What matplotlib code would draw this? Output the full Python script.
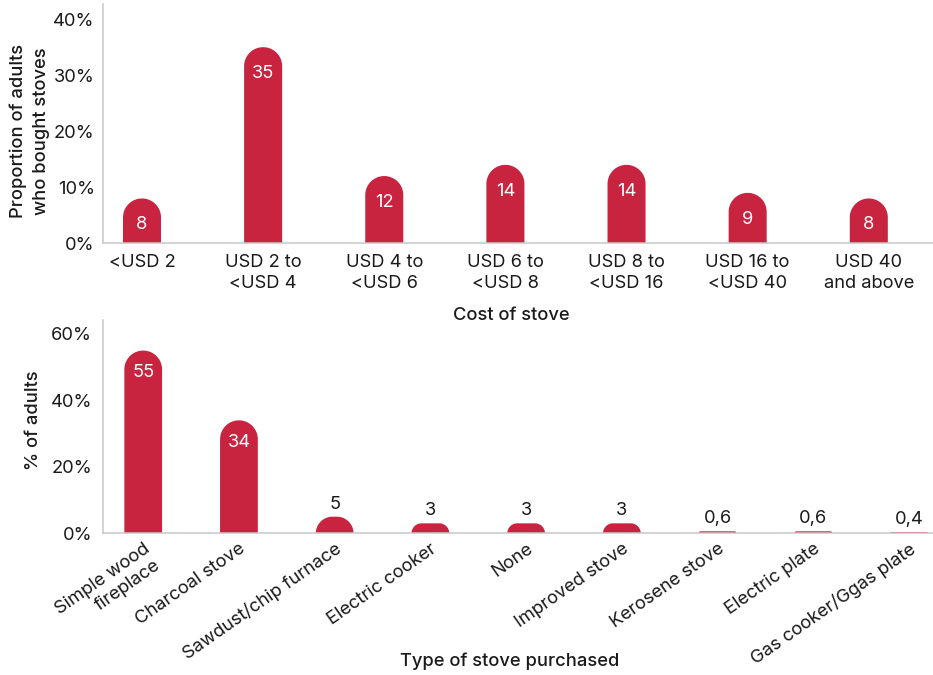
import numpy as np
import matplotlib
matplotlib.use("Agg")
import matplotlib.pyplot as plt
from matplotlib.patches import Polygon

plt.rcParams['font.family'] = ['Inter', 'DejaVu Sans']

# data
cost_cats = ['<USD 2', 'USD 2 to\n<USD 4', 'USD 4 to\n<USD 6', 'USD 6 to\n<USD 8',
             'USD 8 to\n<USD 16', 'USD 16 to\n<USD 40', 'USD 40\nand above']
cost_vals = [8, 35, 12, 14, 14, 9, 8]

stove_cats = ['Simple wood\nfireplace', 'Charcoal stove', 'Sawdust/chip furnace',
              'Electric cooker', 'None', 'Improved stove', 'Kerosene stove',
              'Electric plate', 'Gas cooker/Ggas plate']
stove_vals = [55, 34, 5, 3, 3, 3, 0.6, 0.6, 0.4]

RED = '#C8233F'
GREY = '#c8c8c8'
TXT = '#1a1a1a'
FS = 13.2

W, H = 933, 675
fig = plt.figure(figsize=(W / 100, H / 100), dpi=100)


def px_axes(x0, y_top, x1, y_bot):
    return fig.add_axes([x0 / W, 1 - y_bot / H, (x1 - x0) / W, (y_bot - y_top) / H])


def rounded_bars(ax, bars):
    # swap the plain rectangles for bars with rounded tops (radius in pixels)
    pos = ax.get_position()
    xl, yl = ax.get_xlim(), ax.get_ylim()
    sx = pos.width * W / (xl[1] - xl[0])
    sy = pos.height * H / (yl[1] - yl[0])
    t = np.linspace(0, np.pi / 2, 20)
    for b in bars:
        x0, w, h = b.get_x(), b.get_width(), b.get_height()
        b.set_visible(False)
        r = min(w * sx / 2, h * sy)
        rx, ry = r / sx, r / sy
        left = np.column_stack([x0 + rx - rx * np.cos(t), h - ry + ry * np.sin(t)])
        right = np.column_stack([x0 + w - rx + rx * np.sin(t), h - ry + ry * np.cos(t)])
        pts = np.vstack([[x0, 0], left, right, [x0 + w, 0]])
        ax.add_patch(Polygon(pts, closed=True, facecolor=RED, edgecolor='none'))
    return sy


def style(ax):
    ax.patch.set_visible(False)
    for s in ['top', 'right']:
        ax.spines[s].set_visible(False)
    for s in ['left', 'bottom']:
        ax.spines[s].set_color(GREY)
        ax.spines[s].set_linewidth(1.1)
    ax.tick_params(length=0, labelsize=FS, colors=TXT)


# top chart
ax1 = px_axes(103, 4, 933, 243.3)
x1 = np.arange(len(cost_cats))
bars1 = ax1.bar(x1, cost_vals, width=0.314, color=RED)
ax1.set_xlim(-0.322, 6.53)
ax1.set_ylim(0, 42.7)
ax1.set_yticks([0, 10, 20, 30, 40])
ax1.set_yticklabels(['0%', '10%', '20%', '30%', '40%'])
ax1.set_xticks(x1)
ax1.set_xticklabels(cost_cats, linespacing=1.3)
style(ax1)
ax1.tick_params(axis='x', pad=8)
ax1.tick_params(axis='y', pad=6)
rounded_bars(ax1, bars1)
for xi, v in zip(x1, cost_vals):
    ax1.annotate(str(v), (xi, v), xytext=(0, -19), textcoords='offset points',
                 ha='center', va='center', color='white', fontsize=FS)
ax1.set_ylabel('Proportion of adults\nwho bought stoves', fontsize=FS,
               fontweight='medium', color=TXT, linespacing=1.45)
ax1.yaxis.set_label_coords(-0.064, 0.47)
ax1.set_xlabel('Cost of stove', fontsize=FS, fontweight='medium', color=TXT)
ax1.xaxis.set_label_coords(0.492, -0.265)

# bottom chart
ax2 = px_axes(103, 320, 933, 533.3)
x2 = np.arange(len(stove_cats))
bars2 = ax2.bar(x2, stove_vals, width=0.394, color=RED)
ax2.set_xlim(-0.42, 8.25)
ax2.set_ylim(0, 64.2)
ax2.set_yticks([0, 20, 40, 60])
ax2.set_yticklabels(['0%', '20%', '40%', '60%'])
ax2.set_xticks(x2)
ax2.set_xticklabels(stove_cats, rotation=35, ha='right', rotation_mode='anchor',
                    linespacing=1.2)
style(ax2)
ax2.tick_params(axis='x', pad=5)
ax2.tick_params(axis='y', pad=8)
sy2 = rounded_bars(ax2, bars2)
for xi, v in zip(x2, stove_vals):
    lab = ('%g' % v).replace('.', ',')
    if v * sy2 > 30:
        ax2.annotate(lab, (xi, v), xytext=(0, -16), textcoords='offset points',
                     ha='center', va='center', color='white', fontsize=FS)
    else:
        ax2.annotate(lab, (xi, v), xytext=(0, 3), textcoords='offset points',
                     ha='center', va='bottom', color=TXT, fontsize=FS)
ax2.set_ylabel('% of adults', fontsize=FS, fontweight='medium', color=TXT)
ax2.yaxis.set_label_coords(-0.073, 0.53)
ax2.set_xlabel('Type of stove purchased', fontsize=FS, fontweight='medium', color=TXT)
ax2.xaxis.set_label_coords(0.49, -0.56)

fig.savefig('out.png', dpi=100)
